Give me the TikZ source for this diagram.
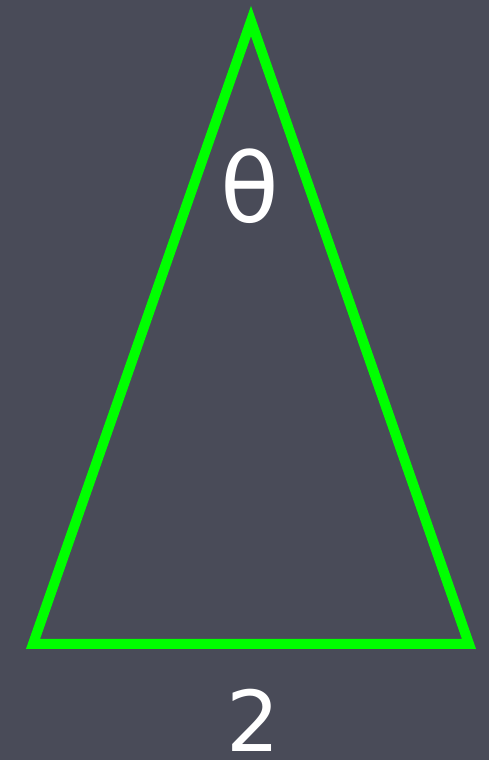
\documentclass[tikz,border=0pt]{standalone}
\usepackage{fontspec}
\setmainfont{DejaVu Sans}
\definecolor{bgdark}{RGB}{73, 75, 88}
\definecolor{trigreen}{RGB}{0, 255, 0}
\usetikzlibrary{positioning}

\begin{document}
\begin{tikzpicture}[x=1pt, y=1pt]
  % Background
  \fill[bgdark] (0, 0) rectangle (489, 760);
  \useasboundingbox (0, 0) rectangle (489, 760);
  % Triangle
  \coordinate (apex) at (251, 739);
  \coordinate (bl) at (33, 116);
  \coordinate (br) at (469, 116);
  \draw[trigreen, line width=10pt, miter limit=10] (apex) -- (br) -- (bl) -- cycle;
  % Labels
  \node[text=white, inner sep=0pt, font=\fontsize{96}{96}\selectfont] (theta) at (250, 574) {θ};
  \node[text=white, inner sep=0pt, font=\fontsize{84}{84}\selectfont] (base) at (253, 40) {2};
\end{tikzpicture}
\end{document}
